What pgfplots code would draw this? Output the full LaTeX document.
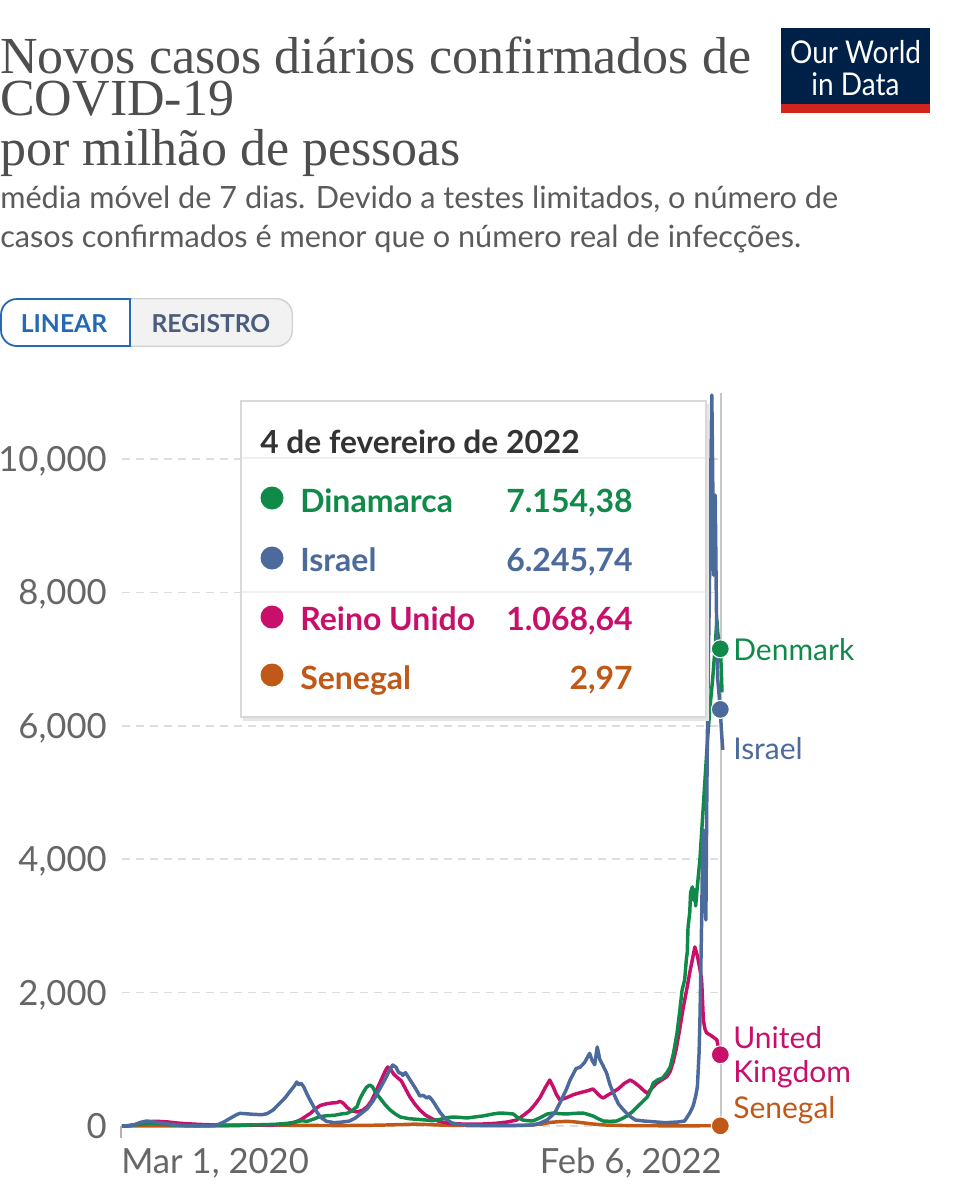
\documentclass[border=0pt]{standalone}
\usepackage{pgfplots}
\pgfplotsset{compat=1.18}
\usepackage{pgfplotstable}
\usepackage{graphicx}
\usepackage{fontspec}
\setmainfont{Lato}
\newfontfamily\titlefont{Liberation Serif}
\newcommand\fs[1]{\fontsize{#1}{#1}\selectfont}
\definecolor{dk}{HTML}{108A48}
\definecolor{il}{HTML}{4C6A9C}
\definecolor{uk}{HTML}{C8106A}
\definecolor{sn}{HTML}{C05917}
\definecolor{tickc}{HTML}{666666}
\definecolor{gridc}{HTML}{DDDDDD}
\definecolor{titlec}{HTML}{4E4E4E}
\definecolor{subc}{HTML}{5B5B5B}
\definecolor{owid}{HTML}{002147}
\definecolor{owidred}{HTML}{CE261E}
\definecolor{linblue}{HTML}{2469B3}
\definecolor{regc}{HTML}{4A5D7E}

\pgfplotstableread{
x y
0 0
8 5
15 20
22 55
29 75
36 65
45 45
55 30
65 15
75 5
90 3
105 8
112 15
120 60
128 120
135 170
139 190
145 185
155 175
165 170
171 185
178 240
185 330
192 420
198 520
203 600
206 660
208 620
211 640
214 590
218 480
222 380
228 240
234 130
241 70
250 50
260 60
268 75
275 120
282 190
289 260
296 380
303 540
310 700
315 830
319 915
323 880
326 800
329 790
331 760
334 800
337 740
341 660
346 560
351 450
355 460
359 420
362 440
366 380
370 300
375 200
381 110
388 50
395 25
410 12
440 10
470 10
484 15
493 45
501 90
510 200
516 345
524 560
528 690
535 860
540 885
545 950
551 1090
554 980
557 920
560 1185
563 1000
567 900
571 795
575 620
579 495
585 330
591 240
598 150
605 90
615 75
625 65
640 50
655 60
663 75
669 195
673 300
676 450
678 590
680 1100
681 1590
682 2300
683 3090
684 4000
685 4440
686 3600
687 3300
688 3090
689 4800
690 6090
691 7000
692 7890
693 9000
694 10000
695 10960
696 9830
697 8260
698 8800
699 9460
700 8260
701 7140
702 6690
703 6540
704 6400
705 6246
706 6000
707 5800
708 5640
}\israel

\pgfplotstableread{
x y
0 0
8 5
15 20
22 45
30 60
38 70
45 68
55 60
65 45
75 35
90 25
105 18
120 14
140 12
160 12
180 15
194 30
202 50
210 90
216 140
222 190
228 260
234 310
240 330
247 345
253 350
257 370
261 340
265 280
270 230
277 210
284 240
289 290
294 380
300 540
305 680
310 820
313 885
316 860
320 780
325 720
329 680
334 560
339 440
345 330
351 240
358 160
366 105
375 65
386 40
400 30
425 30
440 40
454 60
465 90
473 160
481 240
487 330
493 435
498 560
504 690
508 590
512 470
516 390
523 420
531 465
537 490
543 510
549 530
555 555
560 490
564 440
567 420
572 460
579 510
585 560
592 640
599 690
604 650
610 590
615 530
619 490
624 560
630 640
636 690
642 740
646 820
649 940
653 1150
657 1440
661 1750
666 2085
669 2300
672 2490
675 2685
678 2550
681 2350
683 2190
684 1900
685 1590
687 1450
689 1395
693 1365
697 1330
700 1300
701 1290
703 1150
705 1069
707 1000
}\uk

\pgfplotstableread{
x y
0 0
10 5
20 25
32 40
42 35
55 20
70 8
90 5
110 5
130 8
150 15
165 20
180 25
195 40
205 60
212 80
218 70
225 100
233 140
242 155
250 160
258 180
265 190
270 220
274 260
277 290
280 400
284 495
288 580
292 615
295 590
299 500
304 420
310 320
316 240
322 180
328 135
338 110
348 100
358 90
366 80
375 100
382 125
390 135
398 130
407 120
415 135
425 150
431 165
437 180
445 195
453 190
461 180
466 130
472 90
478 80
484 75
492 120
501 180
508 195
516 185
524 180
533 190
543 195
549 175
555 150
561 110
567 75
575 70
583 75
589 110
595 150
601 210
607 285
613 360
619 435
623 540
626 645
631 690
637 720
642 800
646 885
650 1100
654 1395
657 1700
660 2040
663 2190
665 2500
666 2595
667 2985
669 3200
670 3500
672 3585
673 3390
674 3550
675 3480
676 3300
678 3600
681 4000
684 4600
687 5200
690 5800
693 6300
696 6700
699 7200
701 7590
702 7400
703 7300
705 7154
706 6900
707 6500
}\denmark

\pgfplotstableread{
x y
0 0
20 0
30 1
60 2
100 3
130 5
150 10
165 15
175 18
185 15
200 10
230 8
260 7
290 10
310 15
330 22
345 28
360 22
380 12
400 8
430 5
460 6
480 12
495 30
505 55
515 65
525 70
535 60
545 45
555 30
570 15
590 8
620 4
660 3
690 4
705 3
707 3
}\senegal

\begin{document}
\begin{tikzpicture}
\begin{scope}[x=0.75pt,y=-0.75pt]
% title
\node[anchor=north west, inner sep=0, text=titlec, align=left, font=\titlefont\fontsize{39}{31.5}\selectfont] at (0,37) {Novos casos diários confirmados de\\COVID-19\\[6pt]por milhão de pessoas};
\node[anchor=base west, inner sep=0, text=subc] at (0,208) {\fs{23}média móvel de 7 dias. Devido a testes limitados, o número de};
\node[anchor=base west, inner sep=0, text=subc] at (0,247) {\fs{23}casos confirmados é menor que o número real de infecções.};
% logo
\fill[owid] (781,28) rectangle (930,104);
\fill[owidred] (781,104) rectangle (930,113);
\node[anchor=base, inner sep=0, text=white] at (855.5,63) {\scalebox{1}[1.12]{\fs{21}Our World}};
\node[anchor=base, inner sep=0, text=white] at (855.5,95) {\scalebox{1}[1.12]{\fs{21}in Data}};
% buttons
\fill[black!5, rounded corners=12pt] (0,298) rectangle (293,347);
\begin{scope}
\clip[rounded corners=12pt] (0,298) rectangle (293,347);
\fill[white] (0,298) rectangle (130,347);
\end{scope}
\draw[black!18, line width=1pt, rounded corners=12pt] (0.7,298.7) rectangle (292.3,346.3);
\begin{scope}
\clip (-5,290) rectangle (131,355);
\draw[linblue, line width=1.3pt, rounded corners=12pt] (1,299) rectangle (400,346);
\end{scope}
\draw[linblue, line width=1.3pt] (130,299) -- (130,346);
\node[anchor=base, inner sep=0, text=linblue] at (64,332) {\fs{18.5}\bfseries LINEAR};
\node[anchor=base, inner sep=0, text=regc] at (211,332) {\fs{18.5}\bfseries REGISTRO};
% x axis tick and labels
\draw[black!30, line width=1.2pt] (121,1126) -- (121,1138);
\node[anchor=base west, inner sep=0, text=tickc] at (121,1173) {\fs{26}Mar 1, 2020};
\node[anchor=base east, inner sep=0, text=tickc] at (722,1173) {\fs{26}Feb 6, 2022};
\end{scope}

\begin{axis}[at={(91.5pt,-844.5pt)}, anchor=south west, scale only axis,
  width=450pt, height=550.28pt, xmin=0, xmax=707, ymin=0, ymax=11000,
  clip=false,
  axis line style={draw=none}, major tick style={draw=none},
  xtick=\empty, ytick={0,2000,4000,6000,8000,10000},
  scaled y ticks=false,
  ymajorgrids, grid style={gridc, line width=1.2pt, dash pattern=on 6pt off 4.5pt},
  yticklabel style={font=\fs{26}, text=tickc, inner sep=0pt, anchor=base east, xshift=-11.25pt, yshift=-9.3pt},
  /pgf/number format/assume math mode=true,
  /pgf/number format/1000 sep={,},
  every axis plot/.append style={line width=2.6pt, line join=round, no markers},
]
\draw[black!22, line width=1.5pt] (axis cs:706,0) -- (axis cs:706,10990);
\addplot[sn] table {\senegal};
\addplot[uk] table {\uk};
\addplot[dk] table {\denmark};
\addplot[il] table {\israel};
\addplot[only marks, mark=*, mark size=6.75pt, sn, mark options={draw=white, line width=0.8pt}] coordinates {(705,2.97)};
\addplot[only marks, mark=*, mark size=6.75pt, uk, mark options={draw=white, line width=0.8pt}] coordinates {(705,1068.64)};
\addplot[only marks, mark=*, mark size=6.75pt, il, mark options={draw=white, line width=0.8pt}] coordinates {(705,6245.74)};
\addplot[only marks, mark=*, mark size=6.75pt, dk, mark options={draw=white, line width=0.8pt}] coordinates {(705,7154.38)};
\end{axis}

\begin{scope}[x=0.75pt,y=-0.75pt]
% end labels
\node[anchor=base west, inner sep=0, text=dk] at (733,660) {\fs{22.5}Denmark};
\node[anchor=base west, inner sep=0, text=il] at (733,759) {\fs{22.5}Israel};
\node[anchor=base west, inner sep=0, text=uk] at (733,1048) {\fs{22.5}United};
\node[anchor=base west, inner sep=0, text=uk] at (733,1082) {\fs{22.5}Kingdom};
\node[anchor=base west, inner sep=0, text=sn] at (733,1118) {\fs{22.5}Senegal};
% tooltip
\fill[black!10] (243,404) rectangle (709,721);
\draw[black!15, fill=white, line width=1pt] (241,401) rectangle (706,717);
\draw[black!6, line width=1pt] (242,458) -- (705,458);
\draw[black!6, line width=1pt] (242,592) -- (705,592);
\node[anchor=base west, inner sep=0, text=black!80] at (260,453) {\fs{23.8}\bfseries 4 de fevereiro de 2022};
\fill[dk] (272,498) circle (11.5);
\fill[il] (272,558) circle (11.5);
\fill[uk] (272,617) circle (11.5);
\fill[sn] (272,675) circle (11.5);
\node[anchor=base west, inner sep=0, text=dk] at (300,512) {\fs{24}\bfseries Dinamarca};
\node[anchor=base west, inner sep=0, text=il] at (300,571) {\fs{24}\bfseries Israel};
\node[anchor=base west, inner sep=0, text=uk] at (300,630) {\fs{24}\bfseries Reino Unido};
\node[anchor=base west, inner sep=0, text=sn] at (300,689) {\fs{24}\bfseries Senegal};
\node[anchor=base east, inner sep=0, text=dk] at (633,512) {\fs{24}\bfseries 7.154,38};
\node[anchor=base east, inner sep=0, text=il] at (633,571) {\fs{24}\bfseries 6.245,74};
\node[anchor=base east, inner sep=0, text=uk] at (633,630) {\fs{24}\bfseries 1.068,64};
\node[anchor=base east, inner sep=0, text=sn] at (633,689) {\fs{24}\bfseries 2,97};
\end{scope}
\pgfresetboundingbox
\path[use as bounding box] (0pt,0pt) rectangle (722.25pt,-900pt);
\end{tikzpicture}
\end{document}
